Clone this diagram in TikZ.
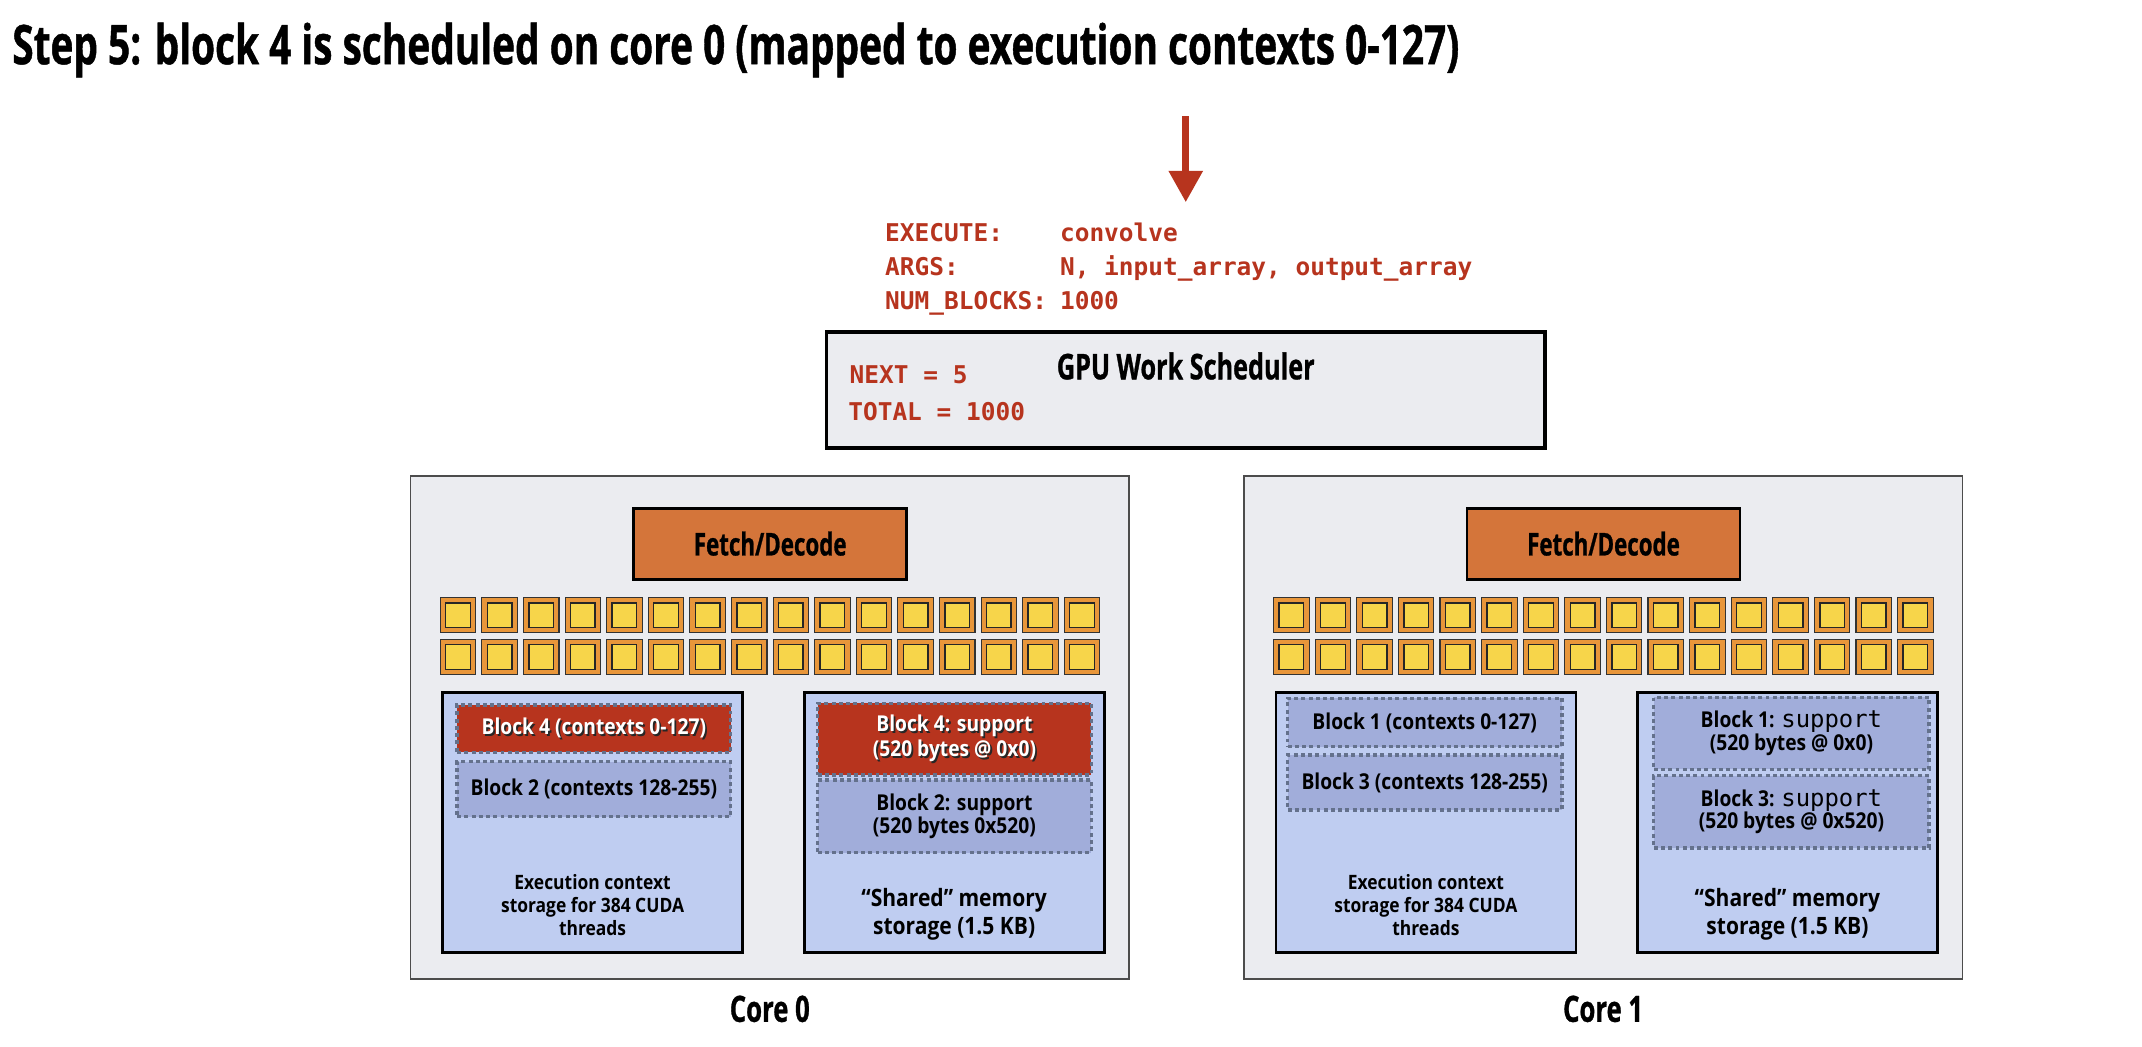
\documentclass[tikz,border=0pt]{standalone}
\usepackage{fontspec}
\usetikzlibrary{arrows.meta}
\newfontfamily\cond{Open Sans}[FakeStretch=0.71, FakeBold=0.8]
\newfontfamily\semi{Open Sans}[FakeStretch=0.88]
\newfontfamily\codefont{DejaVu Sans Mono}
\definecolor{bggray}{RGB}{235,236,240}
\definecolor{hotred}{RGB}{183,52,30}
\definecolor{fdorange}{RGB}{212,117,58}
\definecolor{aluorange}{RGB}{232,150,58}
\definecolor{aluyellow}{RGB}{247,213,74}
\definecolor{storeblue}{RGB}{191,205,241}
\definecolor{blkblue}{RGB}{161,173,218}
\definecolor{dashgray}{RGB}{100,113,140}
\newcommand\shtext[1]{\makebox[0pt][l]{\hspace{1.3pt}\raisebox{-1.3pt}{\color{black!85}#1}}#1}

\begin{document}
\begin{tikzpicture}[x=1pt,y=-1pt,
	every node/.style={inner sep=0pt, outer sep=0pt},
	title/.style={font=\cond\bfseries\fontsize{40}{42}\selectfont},
	head/.style={font=\cond\bfseries\fontsize{26}{28}\selectfont},
	code/.style={anchor=base west, text=hotred, font=\codefont\bfseries\fontsize{17.9}{20}\selectfont},
	sched/.style={draw, line width=2.5pt, fill=bggray},
	coreframe/.style={draw=black!70, line width=1.2pt, fill=bggray},
	fdbox/.style={draw, line width=2pt, fill=fdorange, font=\cond\bfseries\fontsize{23}{25}\selectfont},
	alu/.style={draw=black!80, line width=0.8pt, fill=aluorange, minimum width=26, minimum height=26},
	alucore/.style={draw=black!85, line width=1pt, fill=aluyellow, minimum width=18, minimum height=18},
	store/.style={draw, line width=2pt, fill=storeblue, minimum width=219.6, minimum height=190.4},
	blk/.style={draw=dashgray, line width=2.5pt, dash pattern=on 2.9pt off 2.4pt, fill=blkblue,
		align=center, font=\semi\bfseries\fontsize{16}{16.8}\selectfont},
	hot/.style={blk, fill=hotred, text=white},
	ctxtxt/.style={align=center, font=\semi\bfseries\fontsize{14.5}{17}\selectfont},
	memtxt/.style={align=center, font=\semi\bfseries\fontsize{17.5}{20.7}\selectfont},
	corelbl/.style={anchor=base, font=\cond\bfseries\fontsize{26.5}{28}\selectfont},
	red arrow/.style={draw=hotred, line width=5pt, -{Triangle[width=24pt,length=23pt]}}]
\useasboundingbox[fill=white] (0,0) rectangle (1568,766);

\node[title, anchor=base west] (title) at (9,47) {Step 5: block 4 is scheduled on core 0 (mapped to execution contexts 0-127)};

% kernel launch
\coordinate (arrtop) at (868,85);
\coordinate (arrtip) at (868,148);
\draw[red arrow] (arrtop) -- (arrtip);
\node[code] (exe) at (648,177) {EXECUTE:};
\node[code] (exeval) at (776,177) {convolve};
\node[code] (args) at (648,202) {ARGS:};
\node[code] (argsval) at (776,202) {N, input\_array, output\_array};
\node[code] (nblk) at (648,226.5) {NUM\_BLOCKS:};
\node[code] (nblkval) at (776,226.5) {1000};

% scheduler
\node[sched, minimum width=526, minimum height=85] (sched) at (868,285.5) {};
\node[head, anchor=base] (schedlbl) at (868,277.7) {GPU Work Scheduler};
\node[code] (next) at (622,280.6) {NEXT = 5};
\node[code] (total) at (621,307.5) {TOTAL = 1000};

% cores
\foreach \core/\dx in {0/0,1/610}{
	\node[coreframe, minimum width=526, minimum height=368] (core\core) at (563.5+\dx,532.5) {};
	\node[fdbox, minimum width=200, minimum height=52] (fd\core) at (563.8+\dx,398) {Fetch/Decode};
	\foreach \row in {0,1}
		\foreach \col in {0,...,15}{
			\node[alu] (alu\core-\row-\col) at (335.3+\dx+30.45*\col,450.3+30.7*\row) {};
			\node[alucore] (aluin\core-\row-\col) at (alu\core-\row-\col) {};
		}
	\node[store] (ctx\core) at (433.8+\dx,602.2) {};
	\node[store] (smem\core) at (698.45+\dx,602.2) {};
	\node[ctxtxt] (ctxtxt\core) at (433.8+\dx,662.6) {Execution context\\storage for 384 CUDA\\threads};
	\node[memtxt] (smemtxt\core) at (698.45+\dx,669.3) {“Shared” memory\\storage (1.5 KB)};
	\node[corelbl] (lbl\core) at (563.5+\dx,748) {Core \core};
}

% blocks on core 0
\node[hot, minimum width=200.2, minimum height=34.7] (b4ctx) at (434.7,533.35) {\shtext{Block 4 (contexts 0-127)}};
\node[blk, minimum width=200.2, minimum height=40.3] (b2ctx) at (434.7,577.75) {Block 2 (contexts 128-255)};
\node[hot, minimum width=200.3, minimum height=52.4] (b4sup) at (698.65,541.1) {\shtext{Block 4: support}\\\shtext{(520 bytes @ 0x0)}};
\node[blk, minimum width=200.3, minimum height=53.2] (b2sup) at (698.65,597.6) {Block 2: support\\(520 bytes 0x520)};

% blocks on core 1
\node[blk, minimum width=200.8, minimum height=35.4] (b1ctx) at (1042.9,528.9) {Block 1 (contexts 0-127)};
\node[blk, minimum width=200.8, minimum height=40.3] (b3ctx) at (1042.9,572.85) {Block 3 (contexts 128-255)};
\node[blk, minimum width=201.5, minimum height=52.7] (b1sup) at (1311.35,536.85) {Block 1: {\codefont\mdseries\fontsize{17.5}{17}\selectfont support}\\(520 bytes @ 0x0)};
\node[blk, minimum width=201.5, minimum height=52.8] (b3sup) at (1311.35,594.2) {Block 3: {\codefont\mdseries\fontsize{17.5}{17}\selectfont support}\\(520 bytes @ 0x520)};
\end{tikzpicture}
\end{document}
